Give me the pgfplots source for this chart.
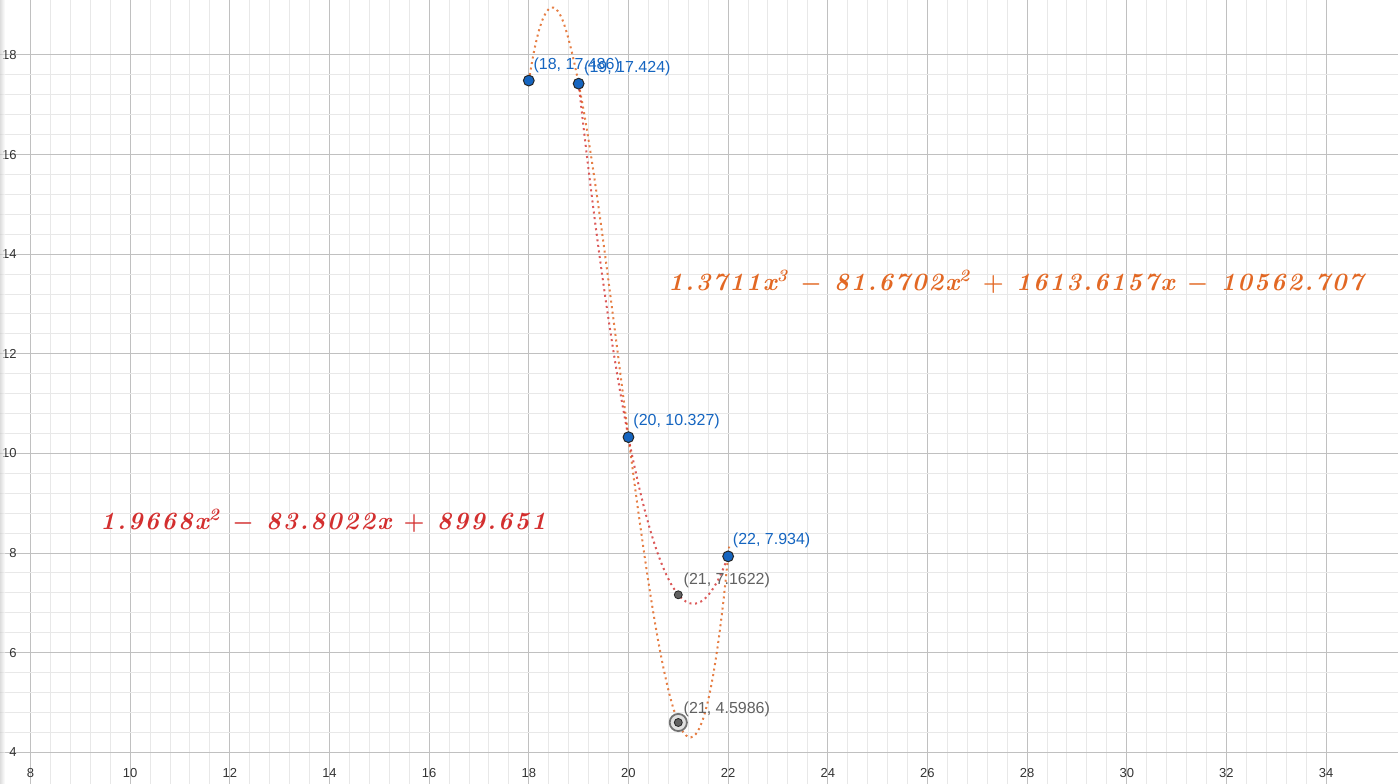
\documentclass[border=0pt]{standalone}
\usepackage{fontspec}
\usepackage{pgfplots}
\pgfplotsset{compat=1.18}
\newfontfamily\arialf{Liberation Sans}
\newfontfamily\eqfont[Extension=.otf, UprightFont=*-regular, BoldFont=*-bold, ItalicFont=*-italic, BoldItalicFont=*-bolditalic, LetterSpace=8.3]{lmroman10}
\definecolor{gridmaj}{RGB}{192,192,192}
\definecolor{gridmin}{RGB}{232,232,232}
\definecolor{orangeC}{RGB}{226,104,36}
\definecolor{redC}{RGB}{211,47,47}
\definecolor{blueC}{RGB}{21,101,192}
\definecolor{grayT}{RGB}{97,97,97}
\definecolor{tickC}{RGB}{51,51,51}
\begin{document}
\begin{tikzpicture}
\begin{axis}[
  scale only axis, width=699pt, height=392pt,
  xmin=7.388, xmax=35.443, ymin=3.364, ymax=19.104,
  axis line style={draw=none},
  tick style={draw=none},
  xtick={8,10,...,34}, ytick={4,6,...,18},
  minor tick num=4,
  grid=both,
  major grid style={draw=gridmaj, line width=0.5pt},
  minor grid style={draw=gridmin, line width=0.5pt},
  /pgf/number format/assume math mode=true,
  ticklabel style={font=\arialf\fontsize{6.5}{7}\selectfont, text=tickC, inner sep=0pt},
  xticklabel style={anchor=center, yshift=5.5pt},
  yticklabel style={anchor=east, xshift=8.5pt},
  clip=false,
]
% cubic (orange, dotted)
\addplot[smooth, draw=orangeC, draw opacity=0.85, line width=1pt, line cap=butt, dash pattern=on 1pt off 1.8pt] coordinates {
(18.0,17.486) (18.1,18.05) (18.2,18.48) (18.3,18.77) (18.4,18.92) (18.5,18.95) (18.6,18.86)
(18.7,18.64) (18.8,18.31) (18.9,17.90) (19.0,17.424) (19.1,16.887) (19.2,16.288) (19.3,15.638)
(19.4,14.943) (19.5,14.213) (19.6,13.456) (19.7,12.681) (19.8,11.896) (19.9,11.108) (20.0,10.327)
(20.1,9.560) (20.2,8.815) (20.3,8.101) (20.4,7.425) (20.5,6.794) (20.6,6.217) (20.7,5.702)
(20.8,5.255) (20.9,4.885) (21.0,4.599) (21.1,4.403) (21.2,4.307) (21.3,4.316) (21.4,4.438)
(21.5,4.680) (21.6,5.049) (21.7,5.552) (21.8,6.196) (21.9,6.988) (22.0,7.934) (22.02,8.13)
};
% quadratic (red, dotted)
\addplot[smooth, draw=redC, draw opacity=0.8, line width=1pt, line cap=butt, dash pattern=on 1pt off 1.8pt] coordinates {
(19.0,17.424) (19.1,16.537) (19.2,15.690) (19.3,14.882) (19.4,14.113) (19.5,13.384) (19.6,12.694)
(19.7,12.043) (19.8,11.432) (19.9,10.860) (20.0,10.327) (20.1,9.834) (20.2,9.380) (20.3,8.965)
(20.4,8.590) (20.5,8.254) (20.6,7.957) (20.7,7.700) (20.8,7.482) (20.9,7.303) (21.0,7.164)
(21.1,7.064) (21.2,7.003) (21.3,6.982) (21.4,7.000) (21.5,7.057) (21.6,7.154) (21.7,7.290)
(21.8,7.465) (21.9,7.680) (22.0,7.934)
};
% halo of selected point
\addplot[only marks, mark=*, mark size=4.3pt, mark options={fill=black!12, draw=black!55, line width=0.9pt}] coordinates {(21,4.5986)};
% gray points
\addplot[only marks, mark=*, mark size=2pt, mark options={fill=black!62, draw=black!85, line width=0.4pt}] coordinates {(21,7.1622) (21,4.5986)};
% blue points
\addplot[only marks, mark=*, mark size=2.7pt, mark options={fill=blueC, draw=black!85, line width=0.5pt}] coordinates {(18,17.486) (19,17.424) (20,10.327) (22,7.934)};
% point labels
\begin{scope}[every node/.style={anchor=west, inner sep=0pt, font=\arialf\fontsize{8}{9}\selectfont}]
\node[text=blueC] at ([xshift=2.2pt,yshift=7.5pt]axis cs:18,17.486) {(18, 17.486)};
\node[text=blueC] at ([xshift=2.6pt,yshift=7.5pt]axis cs:19,17.424) {(19, 17.424)};
\node[text=blueC] at ([xshift=2.3pt,yshift=8pt]axis cs:20,10.327) {(20, 10.327)};
\node[text=blueC] at ([xshift=2.2pt,yshift=8pt]axis cs:22,7.934) {(22, 7.934)};
\node[text=grayT] at ([xshift=2.5pt,yshift=7.3pt]axis cs:21,7.1622) {(21, 7.1622)};
\node[text=grayT] at ([xshift=2.5pt,yshift=6.5pt]axis cs:21,4.5986) {(21, 4.5986)};
\end{scope}
% equations
\node[anchor=base west, inner sep=0pt, text=orangeC, font=\eqfont\fontsize{12.4}{14}\selectfont\bfseries\itshape] at (axis cs:20.793,13.278)
 {1.3711x\textsuperscript{3} {\boldmath$-$} 81.6702x\textsuperscript{2} {\boldmath$+$} 1613.6157x {\boldmath$-$} 10562.707};
\node[anchor=base west, inner sep=0pt, text=redC, font=\eqfont\fontsize{12.4}{14}\selectfont\bfseries\itshape] at (axis cs:9.395,8.480)
 {1.9668x\textsuperscript{2} {\boldmath$-$} 83.8022x {\boldmath$+$} 899.651};
\shade[left color=black!22, right color=white, opacity=0.6] (rel axis cs:0,0) rectangle ([xshift=2.5pt]rel axis cs:0,1);
\end{axis}
\pgfresetboundingbox
\path (current axis.south west) rectangle (current axis.north east);
\end{tikzpicture}
\end{document}
